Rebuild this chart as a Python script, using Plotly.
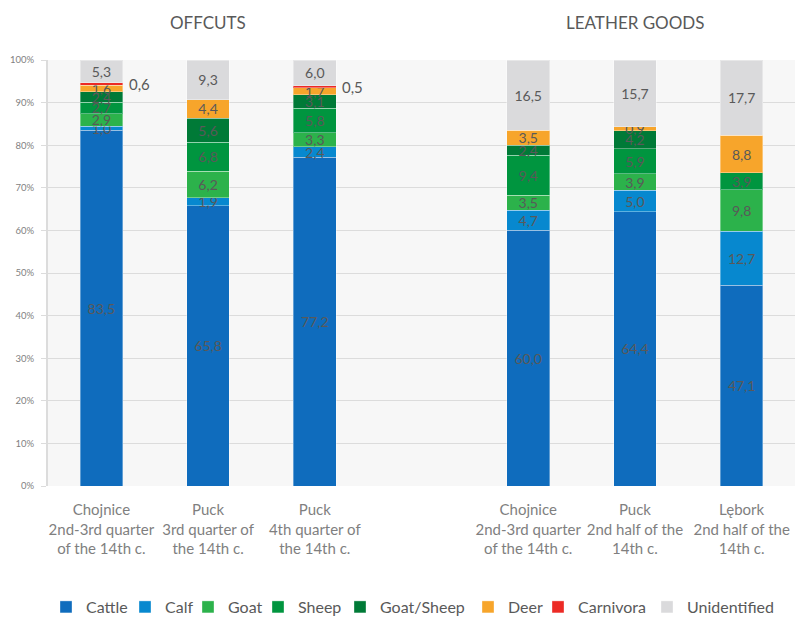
import plotly.graph_objects as go

# Bar positions (slot 3 left empty to separate the two groups)
positions = [0, 1, 2, 4, 5, 6]
site_labels = [
    "Chojnice<br>2nd-3rd quarter<br>of the 14th c.",
    "Puck<br>3rd quarter of<br>the 14th c.",
    "Puck<br>4th quarter of<br>the 14th c.",
    "Chojnice<br>2nd-3rd quarter<br>of the 14th c.",
    "Puck<br>2nd half of the<br>14th c.",
    "Lębork<br>2nd half of the<br>14th c.",
]
group_titles = ["OFFCUTS", "LEATHER GOODS"]
group_title_pos = [1, 5]

species = ["Cattle", "Calf", "Goat", "Sheep", "Goat/Sheep", "Deer", "Carnivora", "Unidentified"]

cattle = [83.5, 65.8, 77.2, 60.0, 64.4, 47.1]
calf = [1.0, 1.9, 2.4, 4.7, 5.0, 12.7]
goat = [2.9, 6.2, 3.3, 3.5, 3.9, 9.8]
sheep = [2.7, 6.8, 5.8, 9.4, 5.9, 3.9]
goat_sheep = [2.4, 5.6, 3.1, 2.4, 4.2, 0.0]
deer = [1.6, 4.4, 1.7, 3.5, 0.9, 8.8]
carnivora = [0.6, 0.0, 0.5, 0.0, 0.0, 0.0]
unidentified = [5.3, 9.3, 6.0, 16.5, 15.7, 17.7]

series = [cattle, calf, goat, sheep, goat_sheep, deer, carnivora, unidentified]
colors = ["#0f6cbd", "#0788cf", "#2cb24b", "#00953f", "#007a37", "#f7a52b", "#ec2a25", "#dadadc"]

# Left edge (px) of each legend entry's text along the bottom row
legend_text_px = [81, 160, 223, 293, 375, 503, 573, 682]

FONT = "Lato, 'Open Sans', sans-serif"
LABEL_GRAY = "#595959"
AXIS_GRAY = "#7f7f7f"

W, H = 795, 617
ML, MR, MT, MB = 48, 0, 60, 131


def fmt(v):
    return f"{v:.1f}".replace(".", ",")


fig = go.Figure()
for k, (name, vals, col) in enumerate(zip(species, series, colors)):
    inside = name != "Carnivora"
    fig.add_trace(go.Bar(
        x=positions,
        y=vals,
        name=name,
        legend="legend" if k == 0 else f"legend{k + 1}",
        width=0.4,
        marker=dict(color=col, line=dict(color="rgba(255,255,255,0.35)", width=1)),
        text=[fmt(v) if (v > 0 and inside) else "" for v in vals],
        textposition="inside",
        insidetextanchor="middle",
        textangle=0,
        insidetextfont=dict(family=FONT, size=14, color=LABEL_GRAY),
        hoverinfo="skip",
    ))

# Carnivora labels sit beside the bars, level with their thin segment
for i, p in enumerate(positions):
    v = carnivora[i]
    if v > 0:
        base = sum(s[i] for s in series[:6])
        fig.add_annotation(
            x=p + 0.2, y=base + v / 2, xref="x", yref="y",
            text=fmt(v), showarrow=False, xanchor="left", xshift=4,
            font=dict(family=FONT, size=15, color=LABEL_GRAY),
        )

for t, p in zip(group_titles, group_title_pos):
    fig.add_annotation(
        x=p, y=1.089, xref="x", yref="paper", text=t, showarrow=False,
        font=dict(family=FONT, size=17, color=LABEL_GRAY), yanchor="middle",
    )

# one single-entry legend per species, laid out in a row under the chart
legend_top_px = 590
legends = {}
for k, tx in enumerate(legend_text_px):
    key = "legend" if k == 0 else f"legend{k + 1}"
    legends[key] = dict(
        orientation="h",
        xref="container", x=(tx + 5 - 40) / W, xanchor="left",
        yref="container", y=1 - legend_top_px / H, yanchor="top",
        font=dict(family=FONT, size=16, color=LABEL_GRAY),
        itemwidth=30, borderwidth=0, bgcolor="rgba(0,0,0,0)",
    )

fig.update_layout(
    barmode="stack",
    width=W, height=H,
    margin=dict(l=ML, r=MR, t=MT, b=MB),
    paper_bgcolor="white",
    plot_bgcolor="#f7f7f7",
    uniformtext=dict(minsize=14, mode="show"),
    font=dict(family=FONT, color=AXIS_GRAY),
    showlegend=True,
    **legends,
)
fig.update_xaxes(
    range=[-0.5, 6.5],
    tickmode="array", tickvals=positions, ticktext=site_labels,
    tickfont=dict(family=FONT, size=15, color=AXIS_GRAY),
    ticklabelstandoff=13,
    showgrid=False, zeroline=False, ticks="", automargin=False,
)
fig.update_yaxes(
    range=[0, 100],
    tickmode="array", tickvals=list(range(0, 101, 10)),
    ticktext=[f"{v}%" for v in range(0, 101, 10)],
    tickfont=dict(family=FONT, size=9.5, color=AXIS_GRAY),
    ticklabelstandoff=5,
    showgrid=True, gridcolor="#dcdcdc", gridwidth=1,
    showline=True, linecolor="#dcdcdc", linewidth=2,
    ticks="outside", ticklen=5, tickcolor="#dcdcdc",
    zeroline=False, automargin=False,
)

fig.write_html("out.html")
